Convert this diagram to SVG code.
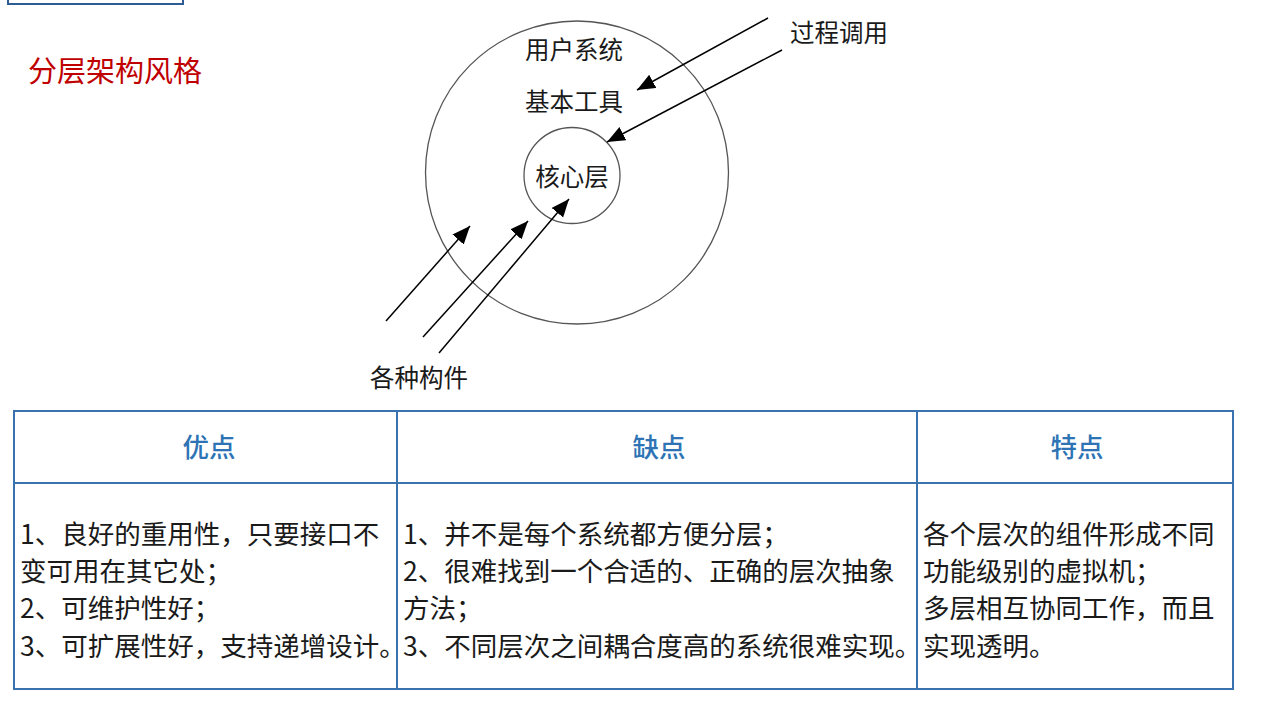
<svg xmlns="http://www.w3.org/2000/svg" width="1280" height="701" viewBox="0 0 1280 701">
<style>
text{font-family:"Noto Sans CJK SC","Noto Sans",sans-serif;}
.lbl{font-size:24.5px;fill:#1a1a1a;}
.title{font-size:29px;fill:#c00000;}
.hdr{font-size:26.5px;fill:#2e74b5;text-anchor:middle;font-weight:500;}
.body{font-size:26.5px;fill:#1a1a1a;}
.ring{fill:none;stroke:#555;stroke-width:1.3;}
.tbl{fill:none;stroke:#3a72b0;stroke-width:2;}
.arr{stroke:#000;stroke-width:1.5;fill:none;marker-end:url(#ah);}
</style>
<defs>
<marker id="ah" markerUnits="userSpaceOnUse" markerWidth="20" markerHeight="16" refX="18" refY="7.5" orient="auto">
<path d="M0,0 L18,7.5 L0,15 Z" fill="#000"/>
</marker>
</defs>
<rect width="1280" height="701" fill="#fff"/>
<g id="topbox"><rect x="8" y="-10" width="175" height="14" fill="none" stroke="#2e5d96" stroke-width="2"/></g>
<g id="title"><text class="title" x="28" y="82">分层架构风格</text></g>
<g id="outer-ring">
<circle class="ring" cx="577" cy="172.5" r="151.5"/>
<text class="lbl" x="574" y="59" text-anchor="middle">用户系统</text>
<text class="lbl" x="574" y="111" text-anchor="middle">基本工具</text>
</g>
<g id="core">
<circle class="ring" cx="572" cy="175.5" r="48"/>
<text class="lbl" x="572" y="186" text-anchor="middle">核心层</text>
</g>
<g id="proc-call"><text class="lbl" x="790" y="42">过程调用</text></g>
<g id="components"><text class="lbl" x="370" y="387">各种构件</text></g>
<g id="connectors">
<line class="arr" x1="768" y1="18" x2="637" y2="90"/>
<line class="arr" x1="782" y1="50" x2="607" y2="142"/>
<line class="arr" x1="386" y1="321" x2="470" y2="226"/>
<line class="arr" x1="423" y1="337" x2="528" y2="221"/>
<line class="arr" x1="439" y1="353" x2="569" y2="199"/>
</g>
<g id="table">
<rect class="tbl" x="14" y="411" width="1219" height="278"/>
<line class="tbl" x1="14" y1="483" x2="1233" y2="483"/>
<line class="tbl" x1="397" y1="411" x2="397" y2="689"/>
<line class="tbl" x1="917" y1="411" x2="917" y2="689"/>
<text class="hdr" x="209" y="457">优点</text>
<text class="hdr" x="659" y="457">缺点</text>
<text class="hdr" x="1077" y="457">特点</text>
<text class="body" x="20" y="544">1、良好的重用性，只要接口不</text>
<text class="body" x="20" y="581">变可用在其它处；</text>
<text class="body" x="20" y="618">2、可维护性好；</text>
<text class="body" x="20" y="656">3、可扩展性好，支持递增设计。</text>
<text class="body" x="403" y="544">1、并不是每个系统都方便分层；</text>
<text class="body" x="403" y="581">2、很难找到一个合适的、正确的层次抽象</text>
<text class="body" x="403" y="618">方法；</text>
<text class="body" x="403" y="656">3、不同层次之间耦合度高的系统很难实现。</text>
<text class="body" x="923" y="544">各个层次的组件形成不同</text>
<text class="body" x="923" y="581">功能级别的虚拟机；</text>
<text class="body" x="923" y="618">多层相互协同工作，而且</text>
<text class="body" x="923" y="656">实现透明。</text>
</g>
</svg>
